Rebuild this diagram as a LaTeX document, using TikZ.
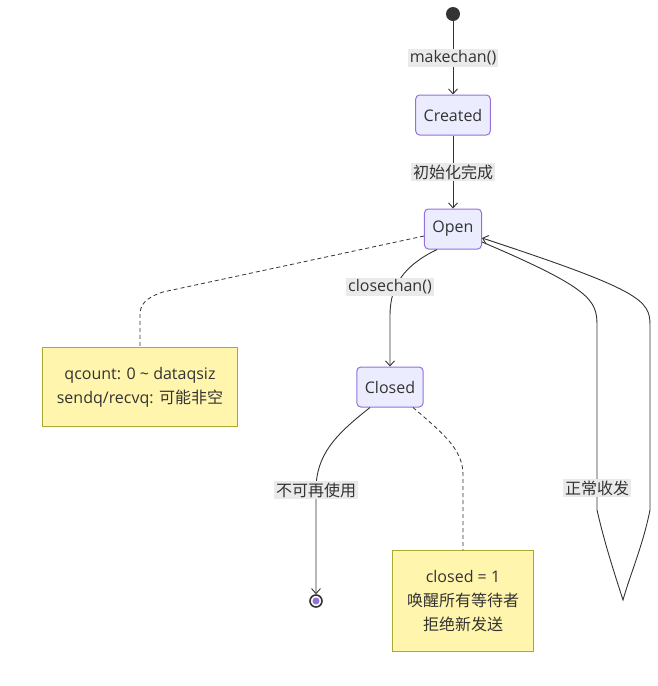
\documentclass[tikz,border=0pt]{standalone}
\usepackage{fontspec}
\setmainfont{Open Sans}
\newfontfamily\cjk{Noto Sans CJK SC}
\usetikzlibrary{arrows.meta}
\definecolor{ink}{HTML}{333333}
\definecolor{stateBg}{HTML}{ECECFF}
\definecolor{stateBd}{HTML}{9370DB}
\definecolor{noteBg}{HTML}{FFF5AD}
\definecolor{noteBd}{HTML}{AAAA33}
\definecolor{lblBg}{HTML}{EAEAEA}
\begin{document}
\begin{tikzpicture}[x=1pt, y=-1pt, font=\fontsize{16}{24}\selectfont, text=ink,
  state/.style={draw=stateBd, fill=stateBg, rounded corners=4pt, line width=1pt, minimum height=40pt, inner xsep=8pt},
  note/.style={draw=noteBd, fill=noteBg, line width=1pt, align=center},
  pt/.style={circle, fill=ink, inner sep=0pt, minimum size=14pt},
  ptE/.style={circle, draw=ink, line width=1.6pt, fill=white, inner sep=0pt, minimum size=12pt,
    path picture={\fill[stateBd] (path picture bounding box.center) circle (3.5pt);}},
  flow/.style={draw=ink, line width=0.9pt, -{Straight Barb[length=5pt,width=9pt]}},
  link/.style={draw=ink, line width=0.8pt, dash pattern=on 4pt off 3pt},
  lbl/.style={fill=lblBg, inner sep=2pt, text=ink}]
\useasboundingbox (0,0) rectangle (657,686);
% states
\node[pt] (start) at (453,14) {};
\node[state] (created) at (453,115) {Created};
\node[state] (open) at (453,229) {Open};
\node[state] (closed) at (390,387) {Closed};
\node[ptE] (end) at (316,601) {};
% notes
\node[note, minimum width=195pt, minimum height=79pt] (noteA) at (140,387)
  {qcount: 0 \textasciitilde{} dataqsiz\\sendq/recvq: {\cjk 可能非空}};
\node[note, minimum width=141pt, minimum height=101pt] (noteB) at (463,601)
  {closed = 1\\{\cjk 唤醒所有等待者}\\{\cjk 拒绝新发送}};
% note links
\draw[link] ([yshift=-7pt]open.west) -- (163,292) .. controls (145,298) and (140,305) .. (140,315) -- (noteA.north);
\draw[link] ([xshift=23pt]closed.south) .. controls (445,435) and (463,450) .. (463,475) -- (noteB.north);
% transitions
\draw[flow] (start) -- (created);
\node[lbl] at (453,58) {makechan()};
\draw[flow] (created) -- (open);
\node[lbl] at (453,172) {\cjk 初始化完成};
\draw[flow] ([xshift=-16pt]open.south) .. controls (405,265) and (390,285) .. (390,315) -- (closed.north);
\node[lbl] at (390,287) {closechan()};
\draw[flow] ([xshift=-20pt]closed.south) .. controls (335,435) and (316,455) .. (316,490) -- (end.north);
\node[lbl] at (316,490) {\cjk 不可再使用};
\draw[flow] ([yshift=-13pt]open.east) .. controls (590,288) and (597,300) .. (597,325) -- (597,510)
  .. controls (605,545) and (615,575) .. (623,600) .. controls (630,575) and (643,545) .. (650,510)
  -- (650,325) .. controls (650,300) and (640,290) .. ([yshift=-9pt]open.east);
\node[lbl] at (597,488) {\cjk 正常收发};
\end{tikzpicture}
\end{document}
